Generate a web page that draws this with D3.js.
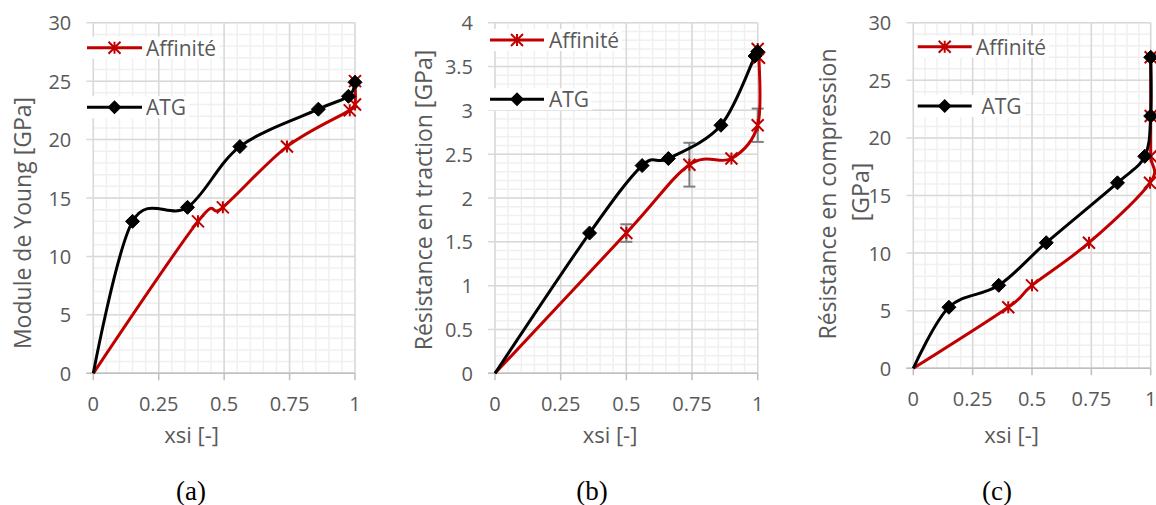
<!DOCTYPE html>
<html><head><meta charset="utf-8">
<script src="https://cdn.jsdelivr.net/npm/d3@7"></script>
<style>
html,body{margin:0;padding:0;background:#fff;}
svg{display:block;}
text{font-family:"Open Sans",sans-serif;}
</style></head>
<body>
<script>
// ---------- data ----------
const xTickValues = [0, 0.25, 0.5, 0.75, 1];
const xTickLabels = ["0", "0.25", "0.5", "0.75", "1"];
const seriesNames = ["Affinité", "ATG"];

// (a) Module de Young
const aAffX = [0, 0.4, 0.495, 0.74, 0.98, 1.0, 1.0];
const aAffY = [0, 13, 14.2, 19.4, 22.5, 23.0, 25.0];
const aAtgX = [0, 0.15, 0.36, 0.56, 0.86, 0.975, 1.0];
const aAtgY = [0, 13, 14.2, 19.4, 22.6, 23.7, 24.9];
const aYTicks = [0, 5, 10, 15, 20, 25, 30];
const aYTickLabels = ["0", "5", "10", "15", "20", "25", "30"];

// (b) Résistance en traction
const bAffX = [0, 0.5, 0.74, 0.9, 1.0, 1.005, 1.0];
const bAffY = [0, 1.6, 2.38, 2.45, 2.83, 3.6, 3.7];
const bAffErr = [0, 0.1, 0.25, 0, 0.19, 0, 0];
const bAtgX = [0, 0.36, 0.56, 0.66, 0.86, 0.99, 1.0];
const bAtgY = [0, 1.6, 2.37, 2.45, 2.83, 3.62, 3.67];
const bYTicks = [0, 0.5, 1, 1.5, 2, 2.5, 3, 3.5, 4];
const bYTickLabels = ["0", "0.5", "1", "1.5", "2", "2.5", "3", "3.5", "4"];

// (c) Résistance en compression
const cAffX = [0, 0.4, 0.5, 0.74, 0.997, 1.0, 1.0, 1.0];
const cAffY = [0, 5.3, 7.2, 10.9, 16.1, 18.4, 21.9, 27];
const cAtgX = [0, 0.15, 0.36, 0.56, 0.86, 0.975, 1.0, 1.0];
const cAtgY = [0, 5.3, 7.2, 10.9, 16.1, 18.4, 21.9, 27];
const cYTicks = [0, 5, 10, 15, 20, 25, 30];
const cYTickLabels = ["0", "5", "10", "15", "20", "25", "30"];

// ---------- layout ----------
const W = 1156, H = 505;
const RED = "#c00000", BLACK = "#000000", GREY = "#595959";
const TICK_FS = 20, TITLE_FS = 22, LEG_FS = 21;
const svg = d3.select("body").append("svg").attr("width", W).attr("height", H);

const panels = [
  {left:93.3, right:355, top:22.7, bottom:373.3, yMax:30, yMinorStep:1, yTicks:aYTicks, yLabels:aYTickLabels,
   aff:{x:aAffX,y:aAffY}, atg:{x:aAtgX,y:aAtgY},
   yTitle:["Module de Young [GPa]"], yTitlePos:[[21.7,223]], xTitleX:191.7,
   leg:{x0:87, x1:142, y:[47.7,107.3], tx:[146,146], labels:["Affinité","ATG"]}, caption:"(a)", capX:191},
  {left:495, right:757.7, top:22.7, bottom:373.3, yMax:4, yMinorStep:0.1, yTicks:bYTicks, yLabels:bYTickLabels,
   aff:{x:bAffX,y:bAffY,err:bAffErr}, atg:{x:bAtgX,y:bAtgY},
   yTitle:["Résistance en traction [GPa]"], yTitlePos:[[423,200]], xTitleX:610,
   leg:{x0:490, x1:544, y:[40,99.3], tx:[549,549], labels:["Affinité","ATG"]}, caption:"(b)", capX:592},
  {left:913.3, right:1150.7, top:22.7, bottom:368.3, yMax:30, yMinorStep:1, yTicks:cYTicks, yLabels:cYTickLabels,
   aff:{x:cAffX,y:cAffY}, atg:{x:cAtgX,y:cAtgY},
   yTitle:["Résistance en compression","[GPa]"], yTitlePos:[[826.7,194],[860,192]], xTitleX:1011.7,
   leg:{x0:917.7, x1:971.7, y:[46.7,106], tx:[976,976], labels:["Affinité"," ATG"]}, caption:"(c)", capX:997}
];

const starPath = (s) => `M${-s},${-s}L${s},${s}M${-s},${s}L${s},${-s}M0,${-s}L0,${s}`;
const diamondPath = (s) => `M0,${-s}L${s},0L0,${s}L${-s},0Z`;

panels.forEach(p => {
  const x = d3.scaleLinear().domain([0,1]).range([p.left, p.right]);
  const y = d3.scaleLinear().domain([0,p.yMax]).range([p.bottom, p.top]);
  const g = svg.append("g");

  // minor gridlines
  const xMinor = d3.range(0, 1.0001, 0.05);
  const yMinor = d3.range(0, p.yMax + 1e-9, p.yMinorStep);
  g.selectAll(".vminor").data(xMinor).join("line")
    .attr("x1", d => x(d)).attr("x2", d => x(d)).attr("y1", y(0)).attr("y2", y(p.yMax))
    .attr("stroke", "#f0f0f0").attr("stroke-width", 1.5);
  g.selectAll(".hminor").data(yMinor).join("line")
    .attr("x1", x(0)).attr("x2", x(1)).attr("y1", d => y(d)).attr("y2", d => y(d))
    .attr("stroke", "#f0f0f0").attr("stroke-width", 1.5);
  // major gridlines
  g.selectAll(".vmajor").data(xTickValues).join("line")
    .attr("x1", d => x(d)).attr("x2", d => x(d)).attr("y1", y(0)).attr("y2", y(p.yMax) )
    .attr("stroke", "#d9d9d9").attr("stroke-width", 1.5);
  g.selectAll(".hmajor").data(p.yTicks).join("line")
    .attr("x1", x(0) - 7).attr("x2", x(1)).attr("y1", d => y(d)).attr("y2", d => y(d))
    .attr("stroke", "#d9d9d9").attr("stroke-width", 1.5);
  // x axis line and ticks
  g.append("line").attr("x1", x(0) - 7).attr("x2", x(1)).attr("y1", y(0)).attr("y2", y(0))
    .attr("stroke", "#bfbfbf").attr("stroke-width", 1.5);
  g.selectAll(".xt").data(xTickValues).join("line")
    .attr("x1", d => x(d)).attr("x2", d => x(d)).attr("y1", y(0)).attr("y2", y(0) + 7)
    .attr("stroke", "#bfbfbf").attr("stroke-width", 1.5);

  // tick labels
  g.selectAll(".xl").data(xTickValues).join("text")
    .attr("x", d => x(d)).attr("y", y(0) + 30).attr("text-anchor", "middle")
    .attr("dominant-baseline", "central").attr("font-size", TICK_FS).attr("fill", GREY)
    .text((d, i) => xTickLabels[i]);
  g.selectAll(".yl").data(p.yTicks).join("text")
    .attr("x", x(0) - 22).attr("y", d => y(d)).attr("text-anchor", "end")
    .attr("dominant-baseline", "central").attr("font-size", TICK_FS).attr("fill", GREY)
    .text((d, i) => p.yLabels[i]);

  // axis titles
  g.append("text").attr("x", p.xTitleX).attr("y", 434).attr("text-anchor", "middle")
    .attr("dominant-baseline", "central").attr("font-size", TITLE_FS).attr("fill", GREY).text("xsi [-]");
  p.yTitle.forEach((t, i) => {
    const [tx, ty] = p.yTitlePos[i];
    g.append("text").attr("transform", `translate(${tx},${ty}) rotate(-90)`)
      .attr("text-anchor", "middle").attr("dominant-baseline", "central")
      .attr("font-size", TITLE_FS + 1).attr("fill", GREY).text(t);
  });

  // error bars (Affinité)
  const line = d3.line().curve(d3.curveCatmullRom.alpha(0)).x(d => x(d[0])).y(d => y(d[1]));
  const affPts = p.aff.x.map((v, i) => [v, p.aff.y[i], p.aff.err ? p.aff.err[i] : 0]);
  const atgPts = p.atg.x.map((v, i) => [v, p.atg.y[i]]);
  const errPts = affPts.filter(d => d[2] > 0);
  const eg = g.append("g").attr("stroke", "#7f7f7f").attr("stroke-width", 2);
  eg.selectAll(".ev").data(errPts).join("line")
    .attr("x1", d => x(d[0])).attr("x2", d => x(d[0])).attr("y1", d => y(d[1] - d[2])).attr("y2", d => y(d[1] + d[2]));
  eg.selectAll(".et").data(errPts).join("line")
    .attr("x1", d => x(d[0]) - 6).attr("x2", d => x(d[0]) + 6).attr("y1", d => y(d[1] + d[2])).attr("y2", d => y(d[1] + d[2]));
  eg.selectAll(".eb").data(errPts).join("line")
    .attr("x1", d => x(d[0]) - 6).attr("x2", d => x(d[0]) + 6).attr("y1", d => y(d[1] - d[2])).attr("y2", d => y(d[1] - d[2]));

  // lines
  g.append("path").datum(affPts).attr("d", line).attr("fill", "none")
    .attr("stroke", RED).attr("stroke-width", 3).attr("stroke-linejoin", "round");
  g.append("path").datum(atgPts).attr("d", line).attr("fill", "none")
    .attr("stroke", BLACK).attr("stroke-width", 3).attr("stroke-linejoin", "round");

  // markers (no marker at origin, as in the reference)
  g.selectAll(".sm").data(affPts.filter(d => d[0] > 0)).join("path")
    .attr("transform", d => `translate(${x(d[0])},${y(d[1])})`)
    .attr("d", starPath(6)).attr("fill", "none").attr("stroke", RED).attr("stroke-width", 2);
  g.selectAll(".dm").data(atgPts.filter(d => d[0] > 0)).join("path")
    .attr("transform", d => `translate(${x(d[0])},${y(d[1])})`)
    .attr("d", diamondPath(7)).attr("fill", BLACK).attr("stroke", BLACK).attr("stroke-width", 1);

  // legend
  const L = p.leg;
  [0, 1].forEach(i => {
    const ly = L.y[i];
    const lg = g.append("g");
    const txt = lg.append("text").attr("x", L.tx[i]).attr("y", ly).attr("dominant-baseline", "central")
      .attr("font-size", LEG_FS).attr("fill", GREY).style("white-space", "pre").text(L.labels[i]);
    const tw = txt.node().getComputedTextLength();
    lg.insert("rect", "text").attr("x", L.x0 - 3).attr("y", ly - 11).attr("width", L.tx[i] + tw - L.x0 + 6).attr("height", 22)
      .attr("fill", "#fff");
    lg.append("line").attr("x1", L.x0).attr("x2", L.x1).attr("y1", ly).attr("y2", ly)
      .attr("stroke", i === 0 ? RED : BLACK).attr("stroke-width", 3);
    const mx = (L.x0 + L.x1) / 2;
    if (i === 0) {
      lg.append("path").attr("transform", `translate(${mx},${ly})`).attr("d", starPath(6))
        .attr("fill", "none").attr("stroke", RED).attr("stroke-width", 2);
    } else {
      lg.append("path").attr("transform", `translate(${mx},${ly})`).attr("d", diamondPath(7))
        .attr("fill", BLACK);
    }
  });

  // caption
  svg.append("text").attr("x", p.capX).attr("y", 491).attr("text-anchor", "middle")
    .attr("dominant-baseline", "central")
    .style("font-family", "'Liberation Serif', serif")
    .attr("font-size", 27).attr("fill", "#000").text(p.caption);
});
</script>
</body></html>
